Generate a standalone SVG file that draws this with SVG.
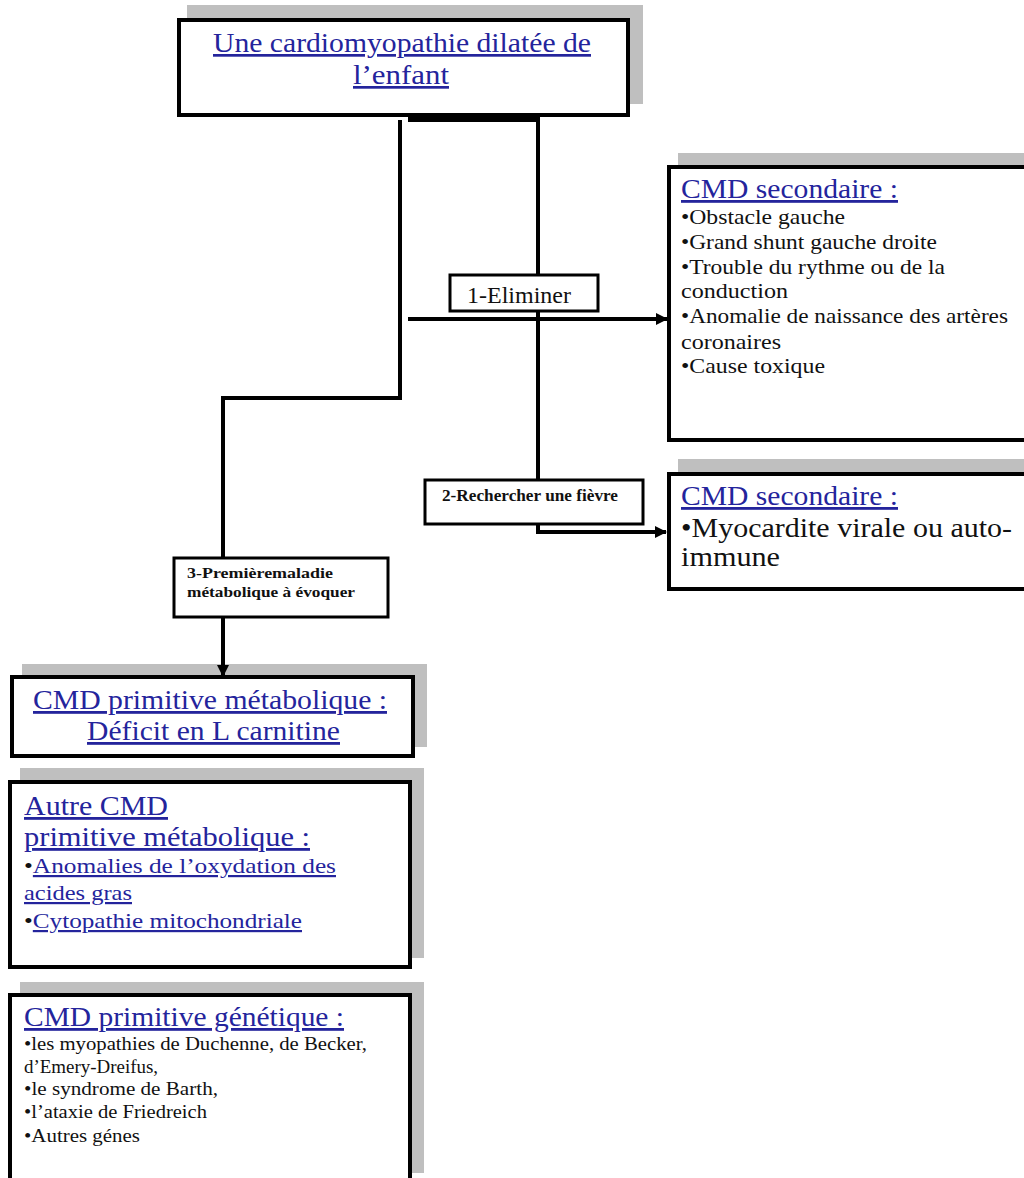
<svg xmlns="http://www.w3.org/2000/svg" width="1024" height="1178" viewBox="0 0 1024 1178">
<style>
.shadow{fill:#bfbfbf}
.box{fill:#fff;stroke:#000;stroke-width:4}
.lbl{fill:#fff;stroke:#000;stroke-width:3}
.conn{fill:none;stroke:#000;stroke-width:4}
.t{font-family:"Liberation Serif","Times New Roman",serif;fill:#111}
.h{font-family:"Liberation Serif","Times New Roman",serif;fill:#24249c;text-decoration:underline}
.u{text-decoration:underline;fill:#24249c}
.b{font-family:"Liberation Serif","Times New Roman",serif;font-weight:bold;fill:#111}
</style>
<defs>
<marker id="ah" markerUnits="userSpaceOnUse" markerWidth="12" markerHeight="12" refX="11" refY="6" orient="auto">
<path d="M0,0 L12,6 L0,12 Z" fill="#000"/>
</marker>
</defs>

<g id="n-top">
<rect class="shadow" x="187" y="5" width="456" height="99"/>
<rect class="box" x="179" y="20" width="449" height="95"/>
<text class="h" x="213" y="52" font-size="27" textLength="378" lengthAdjust="spacingAndGlyphs">Une cardiomyopathie dilatée de</text>
<text class="h" x="353" y="84" font-size="27" textLength="96" lengthAdjust="spacingAndGlyphs">l’enfant</text>
</g>

<g id="n-eliminer">
<rect class="lbl" x="450" y="275" width="148" height="36"/>
<text class="t" x="467" y="303" font-size="23" textLength="104" lengthAdjust="spacingAndGlyphs">1-Eliminer</text>
</g>

<g id="n-fievre">
<rect class="lbl" x="425" y="480" width="218" height="44"/>
<text class="b" x="442" y="501" font-size="16" textLength="176" lengthAdjust="spacingAndGlyphs">2-Rechercher une fièvre</text>
</g>

<g id="n-premiere">
<rect class="lbl" x="174" y="558" width="214" height="59"/>
<text class="b" x="187" y="578" font-size="15" textLength="146" lengthAdjust="spacingAndGlyphs">3-Premièremaladie</text>
<text class="b" x="187" y="597" font-size="15" textLength="168" lengthAdjust="spacingAndGlyphs">métabolique à évoquer</text>
</g>

<g id="n-sec1">
<rect class="shadow" x="678" y="153" width="360" height="276"/>
<rect class="box" x="669" y="167" width="360" height="273"/>
<text class="h" x="681" y="198" font-size="28" textLength="217" lengthAdjust="spacingAndGlyphs">CMD secondaire :</text>
<text class="t" x="681" y="224" font-size="21" textLength="164" lengthAdjust="spacingAndGlyphs">•Obstacle gauche</text>
<text class="t" x="681" y="249" font-size="21" textLength="256" lengthAdjust="spacingAndGlyphs">•Grand shunt gauche droite</text>
<text class="t" x="681" y="274" font-size="21" textLength="264" lengthAdjust="spacingAndGlyphs">•Trouble du rythme ou de la</text>
<text class="t" x="681" y="298" font-size="21" textLength="107" lengthAdjust="spacingAndGlyphs">conduction</text>
<text class="t" x="681" y="323" font-size="21" textLength="327" lengthAdjust="spacingAndGlyphs">•Anomalie de naissance des artères</text>
<text class="t" x="681" y="349" font-size="21" textLength="100" lengthAdjust="spacingAndGlyphs">coronaires</text>
<text class="t" x="681" y="373" font-size="21" textLength="144" lengthAdjust="spacingAndGlyphs">•Cause toxique</text>
</g>

<g id="n-sec2">
<rect class="shadow" x="678" y="459" width="360" height="120"/>
<rect class="box" x="669" y="474" width="360" height="115"/>
<text class="h" x="681" y="505" font-size="28" textLength="217" lengthAdjust="spacingAndGlyphs">CMD secondaire :</text>
<text class="t" x="681" y="537" font-size="27" textLength="331" lengthAdjust="spacingAndGlyphs">•Myocardite virale ou auto-</text>
<text class="t" x="681" y="566" font-size="27" textLength="99" lengthAdjust="spacingAndGlyphs">immune</text>
</g>

<g id="n-carnitine">
<rect class="shadow" x="22" y="664" width="405" height="83"/>
<rect class="box" x="12" y="677" width="401" height="79"/>
<text class="h" x="33" y="709" font-size="28" textLength="354" lengthAdjust="spacingAndGlyphs">CMD primitive métabolique :</text>
<text class="h" x="87" y="740" font-size="28" textLength="253" lengthAdjust="spacingAndGlyphs">Déficit en L carnitine</text>
</g>

<g id="n-autre">
<rect class="shadow" x="20" y="768" width="404" height="190"/>
<rect class="box" x="10" y="782" width="400" height="185"/>
<text class="h" x="24" y="815" font-size="28" textLength="144" lengthAdjust="spacingAndGlyphs">Autre CMD</text>
<text class="h" x="24" y="846" font-size="28" textLength="286" lengthAdjust="spacingAndGlyphs">primitive  métabolique :</text>
<text class="t" x="24" y="873" font-size="22" textLength="312" lengthAdjust="spacingAndGlyphs" fill="#24249c">•<tspan class="u">Anomalies de l’oxydation des</tspan></text>
<text class="h" x="24" y="900" font-size="22" textLength="108" lengthAdjust="spacingAndGlyphs">acides gras</text>
<text class="t" x="24" y="928" font-size="22" textLength="278" lengthAdjust="spacingAndGlyphs" fill="#24249c">•<tspan class="u">Cytopathie mitochondriale</tspan></text>
</g>

<g id="n-genetique">
<rect class="shadow" x="20" y="982" width="404" height="191"/>
<rect class="box" x="10" y="995" width="400" height="200"/>
<text class="h" x="24" y="1026" font-size="28" textLength="320" lengthAdjust="spacingAndGlyphs">CMD primitive génétique :</text>
<text class="t" x="24" y="1050" font-size="18" textLength="343" lengthAdjust="spacingAndGlyphs">•les myopathies de Duchenne, de Becker,</text>
<text class="t" x="24" y="1073" font-size="18" textLength="134" lengthAdjust="spacingAndGlyphs">d’Emery-Dreifus,</text>
<text class="t" x="24" y="1095" font-size="18" textLength="194" lengthAdjust="spacingAndGlyphs">•le syndrome de Barth,</text>
<text class="t" x="24" y="1118" font-size="18" textLength="183" lengthAdjust="spacingAndGlyphs">•l’ataxie de Friedreich</text>
<text class="t" x="24" y="1142" font-size="18" textLength="116" lengthAdjust="spacingAndGlyphs">•Autres génes</text>
</g>

<g id="connectors">
<rect x="408" y="114" width="132" height="8" fill="#000"/>
<path class="conn" d="M400,120 V398 H223 V557"/>
<path class="conn" d="M538,120 V274"/>
<path class="conn" d="M538,312 V479"/>
<path class="conn" d="M538,525 V532 H666" marker-end="url(#ah)"/>
<path class="conn" d="M408,319 H667" marker-end="url(#ah)"/>
<path class="conn" d="M223,618 V676" marker-end="url(#ah)"/>
</g>
</svg>
